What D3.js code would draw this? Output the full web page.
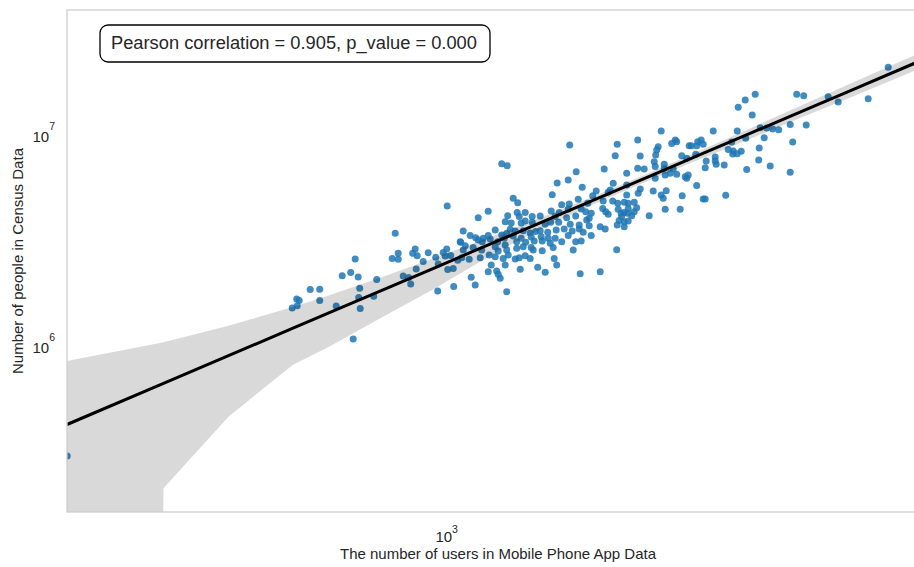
<!DOCTYPE html>
<html>
<head>
<meta charset="utf-8">
<script src="https://cdn.jsdelivr.net/npm/d3@7"></script>
<style>
  body { margin: 0; background: #fff; }
  svg { display: block; font-family: "Liberation Sans", Arial, sans-serif; }
</style>
</head>
<body>
<svg id="chart" width="914" height="567"></svg>
<script>
// log10 of each county's counts
const logUsers = [
  2.241, 2.691, 2.701, 2.700, 2.705, 2.727, 2.746, 2.746, 2.779, 2.813,
  2.791, 2.808, 2.823, 2.817, 2.826, 2.824, 2.827, 2.860, 2.854, 2.891,
  2.897, 2.903, 2.903, 2.913, 2.924, 2.928, 2.937, 2.932, 2.941, 2.939,
  2.953, 2.963, 2.978, 2.983, 2.982, 2.993, 3.000, 2.997, 3.008, 3.002,
  3.013, 3.014, 3.022, 3.001, 3.027, 3.246, 3.110, 3.121, 3.259, 3.243,
  3.221, 3.271, 3.211, 3.133, 3.142, 3.245, 3.230, 3.263, 3.083, 3.063,
  3.122, 3.141, 3.145, 3.157, 3.171, 3.187, 3.209, 3.217, 3.225, 3.243,
  3.240, 3.258, 3.269, 3.278, 3.117, 3.129, 3.149, 3.157, 3.171, 3.197,
  3.208, 3.224, 3.247, 3.265, 3.280, 3.033, 3.097, 3.127, 3.137, 3.153,
  3.167, 3.178, 3.187, 3.202, 3.219, 3.235, 3.251, 3.265, 3.273, 3.047,
  3.058, 3.063, 3.073, 3.071, 3.083, 3.087, 3.110, 3.115, 3.120, 3.102,
  3.133, 3.140, 3.149, 3.158, 3.169, 3.175, 3.189, 3.191, 3.203, 3.217,
  3.230, 3.243, 3.258, 3.269, 3.028, 3.037, 3.033, 3.053, 3.097, 3.103,
  3.117, 3.120, 3.123, 3.140, 3.153, 3.169, 3.173, 3.191, 3.207, 3.213,
  3.253, 3.030, 3.045, 3.067, 3.070, 3.085, 3.097, 3.113, 3.137, 3.145,
  3.157, 3.167, 3.215, 3.089, 3.117, 3.220, 3.083, 3.100, 3.103, 3.107,
  3.147, 3.182, 3.197, 3.267, 3.049, 3.057, 3.120, 3.429, 3.533, 3.382,
  3.457, 3.460, 3.450, 3.341, 3.423, 3.420, 3.485, 3.489, 3.502, 3.509,
  3.500, 3.513, 3.337, 3.387, 3.418, 3.470, 3.480, 3.498, 3.519, 3.539,
  3.415, 3.417, 3.435, 3.435, 3.382, 3.395, 3.315, 3.453, 3.447, 3.360,
  3.437, 3.417, 3.460, 3.477, 3.480, 3.483, 3.333, 3.360, 3.500, 3.387,
  3.383, 3.413, 3.439, 3.327, 3.323, 3.299, 3.360, 3.429, 3.433, 3.471,
  3.513, 3.517, 3.292, 3.313, 3.332, 3.342, 3.355, 3.363, 3.375, 3.282,
  3.312, 3.318, 3.323, 3.343, 3.349, 3.355, 3.363, 3.362, 3.375, 3.380,
  3.437, 3.467, 3.405, 3.289, 3.285, 3.350, 3.355, 3.370, 3.345, 3.341,
  3.363, 3.355, 3.307, 3.317, 3.285, 3.289, 3.340, 3.307, 3.611, 3.627,
  3.640, 3.652, 3.664, 3.687, 3.719, 3.635, 3.692, 3.625, 3.581, 3.570,
  3.563, 3.573, 3.572, 3.581, 3.589, 3.537, 3.537, 3.517, 3.555, 3.600,
  3.624, 3.647, 3.687, 3.558, 3.617, 3.597, 3.583, 3.700, 3.714, 3.763,
  3.783, 3.843, 3.883, 3.598
];
const logPeople = [
  5.465, 6.166, 6.177, 6.209, 6.201, 6.253, 6.255, 6.201, 6.175, 6.019,
  6.319, 6.334, 6.313, 6.398, 6.259, 6.216, 6.164, 6.301, 6.222, 6.401,
  6.520, 6.425, 6.397, 6.318, 6.310, 6.280, 6.446, 6.425, 6.414, 6.351,
  6.386, 6.428, 6.406, 6.374, 6.246, 6.429, 6.446, 6.412, 6.415, 6.348,
  6.353, 6.268, 6.392, 6.649, 6.480, 6.938, 6.850, 6.840, 6.812, 6.773,
  6.758, 6.738, 6.703, 6.686, 6.665, 6.659, 6.655, 6.681, 6.624, 6.594,
  6.603, 6.618, 6.600, 6.619, 6.599, 6.602, 6.626, 6.599, 6.619, 6.635,
  6.594, 6.602, 6.635, 6.622, 6.575, 6.569, 6.569, 6.578, 6.572, 6.563,
  6.572, 6.572, 6.563, 6.559, 6.583, 6.531, 6.536, 6.539, 6.531, 6.532,
  6.521, 6.528, 6.532, 6.525, 6.536, 6.540, 6.531, 6.540, 6.525, 6.509,
  6.499, 6.488, 6.496, 6.480, 6.509, 6.493, 6.512, 6.496, 6.520, 6.480,
  6.507, 6.480, 6.496, 6.477, 6.502, 6.483, 6.504, 6.483, 6.496, 6.496,
  6.480, 6.509, 6.480, 6.483, 6.477, 6.461, 6.441, 6.452, 6.456, 6.436,
  6.464, 6.441, 6.417, 6.449, 6.456, 6.452, 6.441, 6.437, 6.473, 6.452,
  6.441, 6.404, 6.397, 6.404, 6.441, 6.417, 6.409, 6.401, 6.398, 6.404,
  6.414, 6.401, 6.401, 6.370, 6.370, 6.370, 6.338, 6.341, 6.326, 6.307,
  6.349, 6.359, 6.335, 6.328, 6.311, 6.275, 6.243, 7.005, 7.005, 6.962,
  6.962, 6.954, 6.946, 6.942, 6.930, 6.915, 6.935, 6.935, 6.954, 6.962,
  6.935, 6.942, 6.888, 6.886, 6.891, 6.888, 6.875, 6.894, 6.863, 6.847,
  6.859, 6.836, 6.847, 6.828, 6.828, 6.825, 6.825, 6.825, 6.804, 6.804,
  6.796, 6.781, 6.800, 6.788, 6.781, 6.796, 6.757, 6.749, 6.746, 6.730,
  6.710, 6.720, 6.722, 6.725, 6.714, 6.720, 6.701, 6.701, 6.686, 6.698,
  6.682, 6.682, 6.698, 6.673, 6.673, 6.662, 6.667, 6.662, 6.667, 6.662,
  6.638, 6.622, 6.610, 6.634, 6.615, 6.619, 6.638, 6.615, 6.622, 6.641,
  6.634, 6.634, 6.603, 6.615, 6.591, 6.599, 6.575, 6.603, 6.580, 6.559,
  6.578, 6.551, 6.551, 6.540, 6.556, 6.509, 6.442, 6.338, 7.081, 7.020,
  7.019, 7.014, 7.011, 7.036, 7.033, 6.973, 6.953, 6.924, 7.005, 6.953,
  6.917, 6.910, 6.896, 6.897, 6.909, 6.882, 6.863, 6.831, 6.844, 6.822,
  6.867, 6.839, 6.809, 6.700, 7.179, 7.152, 7.117, 7.179, 7.172, 7.167,
  7.142, 7.158, 7.307, 6.970
];

// regression fit (log10 space) and its confidence band
const fitLog = { intercept: 3.3507, slope: 1.01 };
const bandLogUsers = [2.2406, 2.4336, 2.5636, 2.6926, 2.7666, 2.8726, 2.9726, 3.0466, 3.1066,
  3.2066, 3.3066, 3.4066, 3.5066, 3.6066, 3.7066, 3.8066, 3.9346, 4.0026];
const bandLogUpper = [5.915, 6.003, 6.082, 6.170, 6.228, 6.314, 6.400, 6.466, 6.519,
  6.611, 6.707, 6.808, 6.911, 7.017, 7.123, 7.229, 7.363, 7.434];
// first lower bound is below zero, so it falls off the log axis
const bandLogLower = [null, 5.311, 5.651, 5.897, 5.984, 6.124, 6.254, 6.357, 6.441,
  6.561, 6.671, 6.772, 6.871, 6.967, 7.066, 7.162, 7.289, 7.355];

const xTicks = [3];
const yTicks = [6, 7];
const X_TITLE = 'The number of users in Mobile Phone App Data';
const Y_TITLE = 'Number of people in Census Data';
const NOTE = 'Pearson correlation = 0.905, p_value = 0.000';

const LEFT = 67;
const TOP = 10;
const RIGHT = 948;
const BOTTOM = 512;
const TEXT = '#262626';
const DOT = '#1f77b4';

const svg = d3.select('#chart');

const x = d3.scaleLog()
  .domain([10 ** 2.2406, 10 ** 4.0026])
  .range([LEFT, RIGHT]);

const y = d3.scaleLog()
  .domain([10 ** 5.199, 10 ** 7.5782])
  .range([BOTTOM, TOP]);

svg.append('defs').append('clipPath')
  .attr('id', 'plot-clip')
  .append('rect')
  .attr('x', LEFT)
  .attr('y', TOP)
  .attr('width', RIGHT - LEFT)
  .attr('height', BOTTOM - TOP);

const points = logUsers.map((u, i) => ({ users: 10 ** u, people: 10 ** logPeople[i] }));
const band = bandLogUsers.map((u, i) => ({
  users: 10 ** u,
  hi: 10 ** bandLogUpper[i],
  lo: bandLogLower[i] === null ? null : 10 ** bandLogLower[i],
  fit: 10 ** (fitLog.intercept + fitLog.slope * u)
}));

const plot = svg.append('g').attr('clip-path', 'url(#plot-clip)');

// Scatter
plot.append('g')
  .selectAll('circle')
  .data(points)
  .enter()
  .append('circle')
  .attr('cx', d => x(d.users))
  .attr('cy', d => y(d.people))
  .attr('r', 3.5)
  .attr('fill', DOT)
  .attr('fill-opacity', 0.85);

// Confidence band
const area = d3.area()
  .x(d => x(d.users))
  .y0(d => d.lo === null ? BOTTOM + 10000 : y(d.lo))
  .y1(d => y(d.hi));

plot.append('path')
  .datum(band)
  .attr('d', area)
  .attr('fill', '#000')
  .attr('fill-opacity', 0.15);

// Fit line
const line = d3.line()
  .x(d => x(d.users))
  .y(d => y(d.fit));

plot.append('path')
  .datum(band)
  .attr('d', line)
  .attr('fill', 'none')
  .attr('stroke', '#000')
  .attr('stroke-width', 3);

// Frame
svg.append('rect')
  .attr('x', LEFT)
  .attr('y', TOP)
  .attr('width', RIGHT - LEFT)
  .attr('height', BOTTOM - TOP)
  .attr('fill', 'none')
  .attr('stroke', '#cccccc')
  .attr('stroke-width', 1.25);

// Tick labels as 10^n
const yLabels = svg.append('g')
  .selectAll('text')
  .data(yTicks)
  .enter()
  .append('text')
  .attr('x', 55)
  .attr('y', d => y(10 ** d) + 10.5)
  .attr('text-anchor', 'end')
  .attr('fill', TEXT)
  .style('font-size', '15px');
yLabels.append('tspan').text('10');
yLabels.append('tspan')
  .attr('dy', -12)
  .style('font-size', '10.5px')
  .text(d => d);

const xLabels = svg.append('g')
  .selectAll('text')
  .data(xTicks)
  .enter()
  .append('text')
  .attr('x', d => x(10 ** d))
  .attr('y', BOTTOM + 29.5)
  .attr('text-anchor', 'middle')
  .attr('fill', TEXT)
  .style('font-size', '15px');
xLabels.append('tspan').text('10');
xLabels.append('tspan')
  .attr('dy', -8.5)
  .style('font-size', '10.5px')
  .text(d => d);

// Axis titles
svg.append('text')
  .attr('x', 498)
  .attr('y', 559)
  .attr('text-anchor', 'middle')
  .attr('fill', TEXT)
  .style('font-size', '15px')
  .text(X_TITLE);

svg.append('text')
  .attr('transform', 'translate(22.5,' + (TOP + BOTTOM) / 2 + ') rotate(-90)')
  .attr('text-anchor', 'middle')
  .attr('fill', TEXT)
  .style('font-size', '15px')
  .text(Y_TITLE);

// Correlation note
svg.append('rect')
  .attr('x', 100)
  .attr('y', 25)
  .attr('width', 390)
  .attr('height', 37)
  .attr('rx', 8)
  .attr('fill', '#fff')
  .attr('stroke', '#000')
  .attr('stroke-width', 1.3);

svg.append('text')
  .attr('x', 111)
  .attr('y', 48.5)
  .attr('fill', TEXT)
  .style('font-size', '18.3px')
  .text(NOTE);
</script>
</body>
</html>
